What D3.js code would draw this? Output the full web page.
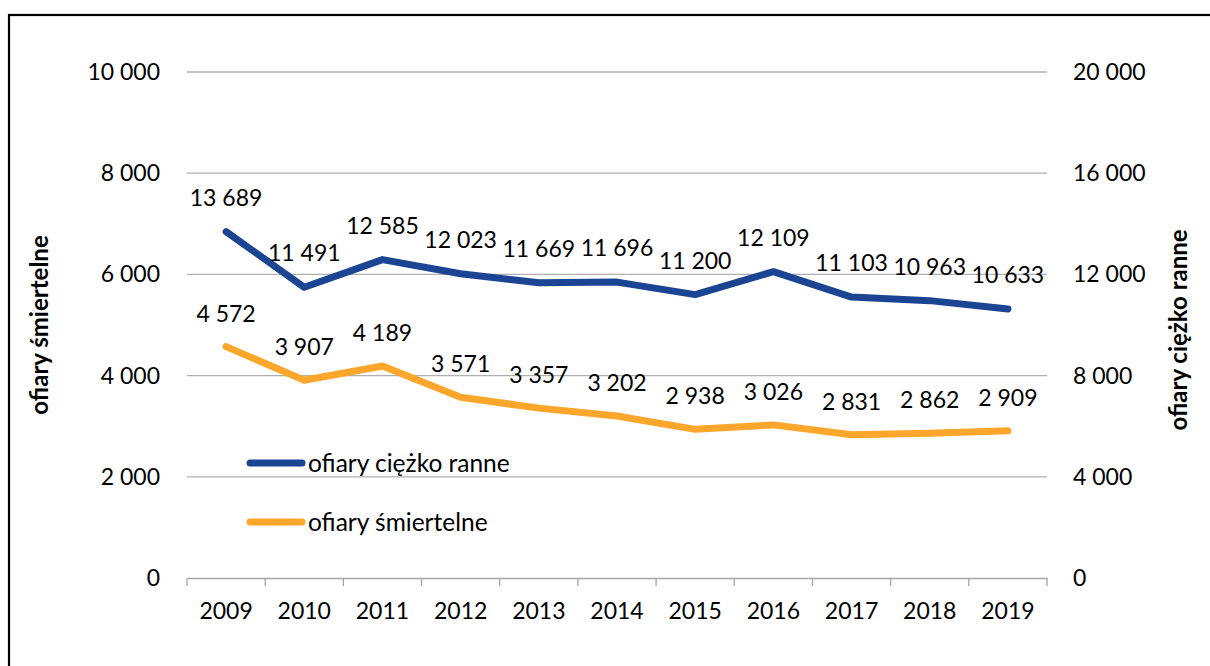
<!DOCTYPE html>
<html>
<head>
<meta charset="utf-8">
<script src="https://cdn.jsdelivr.net/npm/d3@7"></script>
<style>
  body { margin: 0; background: white; }
  text { font-family: Lato, "Open Sans", sans-serif; fill: #000; }
</style>
</head>
<body>
<div class="chart"></div>
<script>
var years = ['2009', '2010', '2011', '2012', '2013', '2014', '2015', '2016', '2017', '2018', '2019'];
// ofiary ciężko ranne (right axis)
var injured = [13689, 11491, 12585, 12023, 11669, 11696, 11200, 12109, 11103, 10963, 10633];
// ofiary śmiertelne (left axis)
var killed = [4572, 3907, 4189, 3571, 3357, 3202, 2938, 3026, 2831, 2862, 2909];
var leftTicks = [0, 2000, 4000, 6000, 8000, 10000];
var rightTicks = [0, 4000, 8000, 12000, 16000, 20000];

var width = 1210,
    height = 666,
    plotLeft = 187,
    plotRight = 1047,
    plotTop = 72,
    plotBottom = 578,
    blue = '#1b4592',
    orange = '#fca62c';

var fmt = function(v) { return d3.format(',')(v).replace(/,/g, ' '); };

var svg = d3.select('.chart').append('svg')
    .attr('width', width)
    .attr('height', height)
    .style('background', 'white');

// outer frame
svg.append('rect')
    .attr('x', 9).attr('y', 15)
    .attr('width', 1220).attr('height', 700)
    .attr('fill', 'none')
    .attr('stroke', '#000')
    .attr('stroke-width', 2.2);

var x = d3.scaleBand().domain(years).range([plotLeft, plotRight]);
var yL = d3.scaleLinear().domain([0, 10000]).range([plotBottom, plotTop]);
var yR = d3.scaleLinear().domain([0, 20000]).range([plotBottom, plotTop]);

// gridlines
svg.append('g').selectAll('line').data(leftTicks.slice(1))
    .enter().append('line')
        .attr('x1', plotLeft).attr('x2', plotRight)
        .attr('y1', function(d) { return yL(d); })
        .attr('y2', function(d) { return yL(d); })
        .attr('stroke', '#b0b0b0')
        .attr('stroke-width', 1.3);

// x axis
var xAxis = svg.append('g')
    .attr('transform', 'translate(0,' + plotBottom + ')')
    .call(d3.axisBottom(x).tickSize(0).tickPadding(33));
xAxis.select('.domain').attr('stroke', '#a6a6a6').attr('stroke-width', 1.3);
xAxis.selectAll('text').style('font-size', '23px').attr('dy', '0.35em');
svg.append('g').selectAll('line').data(years.concat(['end']))
    .enter().append('line')
        .attr('x1', function(d, i) { return plotLeft + i * x.step(); })
        .attr('x2', function(d, i) { return plotLeft + i * x.step(); })
        .attr('y1', plotBottom).attr('y2', plotBottom + 8)
        .attr('stroke', '#a6a6a6')
        .attr('stroke-width', 1.3);

// left axis labels
svg.append('g').selectAll('text').data(leftTicks)
    .enter().append('text')
        .text(fmt)
        .attr('x', 160)
        .attr('y', function(d) { return yL(d); })
        .attr('dy', '0.35em')
        .attr('text-anchor', 'end')
        .style('font-size', '23px');

// right axis labels
svg.append('g').selectAll('text').data(rightTicks)
    .enter().append('text')
        .text(fmt)
        .attr('x', 1073)
        .attr('y', function(d) { return yR(d); })
        .attr('dy', '0.35em')
        .style('font-size', '23px');

// axis titles
svg.append('text')
    .text('ofiary śmiertelne')
    .attr('transform', 'translate(48,' + 325 + ') rotate(-90)')
    .attr('text-anchor', 'middle')
    .style('font-size', '24px')
    .style('font-weight', 'bold');
svg.append('text')
    .text('ofiary ciężko ranne')
    .attr('transform', 'translate(1187,' + 330 + ') rotate(-90)')
    .attr('text-anchor', 'middle')
    .style('font-size', '24px')
    .style('font-weight', 'bold');

var cx = function(d, i) { return x(years[i]) + x.bandwidth() / 2; };

var lineR = d3.line().x(cx).y(function(d) { return yR(d); });
var lineL = d3.line().x(cx).y(function(d) { return yL(d); });

svg.append('path').datum(injured)
    .attr('d', lineR)
    .attr('fill', 'none')
    .attr('stroke', blue)
    .attr('stroke-width', 7)
    .attr('stroke-linecap', 'round')
    .attr('stroke-linejoin', 'round');

svg.append('path').datum(killed)
    .attr('d', lineL)
    .attr('fill', 'none')
    .attr('stroke', orange)
    .attr('stroke-width', 7)
    .attr('stroke-linecap', 'round')
    .attr('stroke-linejoin', 'round');

// data labels
svg.append('g').selectAll('text').data(injured)
    .enter().append('text')
        .text(fmt)
        .attr('x', cx)
        .attr('y', function(d) { return yR(d) - 26; })
        .attr('text-anchor', 'middle')
        .style('font-size', '23px');

svg.append('g').selectAll('text').data(killed)
    .enter().append('text')
        .text(fmt)
        .attr('x', cx)
        .attr('y', function(d) { return yL(d) - 25; })
        .attr('text-anchor', 'middle')
        .style('font-size', '23px');

// legend
var legend = [{name: 'ofiary ciężko ranne', color: blue, y: 463},
              {name: 'ofiary śmiertelne', color: orange, y: 522}];
var lg = svg.append('g').selectAll('g').data(legend).enter().append('g');
lg.append('line')
    .attr('x1', 250).attr('x2', 302)
    .attr('y1', function(d) { return d.y; })
    .attr('y2', function(d) { return d.y; })
    .attr('stroke', function(d) { return d.color; })
    .attr('stroke-width', 7)
    .attr('stroke-linecap', 'round');
lg.append('text')
    .text(function(d) { return d.name; })
    .attr('x', 308)
    .attr('y', function(d) { return d.y; })
    .attr('dy', '0.35em')
    .style('font-size', '24.5px');
</script>
</body>
</html>
